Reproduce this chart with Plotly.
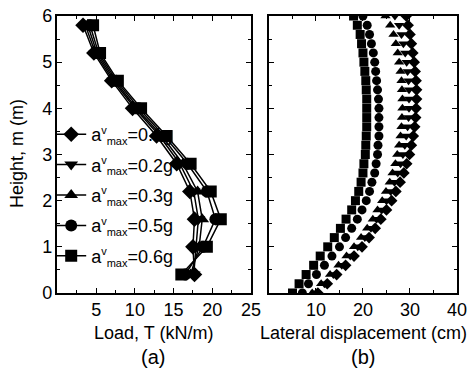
import plotly.graph_objects as go

# ---------------- data ----------------
# panel (a): load distribution
heights_a = [0.4, 1.0, 1.6, 2.2, 2.8, 3.4, 4.0, 4.6, 5.2, 5.8]
load_01g = [17.7, 17.5, 17.7, 17.1, 15.4, 12.8, 9.7, 7.0, 4.7, 3.3]
load_02g = [17.6, 17.9, 18.2, 17.6, 15.8, 13.2, 10.0, 7.2, 4.9, 3.6]
load_03g = [17.2, 18.3, 18.7, 18.1, 16.2, 13.5, 10.2, 7.4, 5.1, 3.9]
load_05g = [16.5, 18.8, 20.4, 19.3, 16.8, 13.8, 10.5, 7.6, 5.3, 4.2]
load_06g = [16.0, 19.3, 21.1, 19.8, 17.2, 14.1, 10.8, 7.8, 5.5, 4.6]

# panel (b): lateral displacement
heights_b = [0.0, 0.2, 0.4, 0.6, 0.8, 1.0, 1.2, 1.4, 1.6, 1.8, 2.0, 2.2, 2.4, 2.6, 2.8, 3.0,
             3.2, 3.4, 3.6, 3.8, 4.0, 4.2, 4.4, 4.6, 4.8, 5.0, 5.2, 5.4, 5.6, 5.8, 6.0]
disp_01g = [10.4, 12.4, 14.4, 16.3, 18.1, 19.8, 21.3, 22.6, 23.8, 25.0, 26.1, 27.0, 27.9, 28.7, 29.3, 29.9,
            30.3, 30.7, 31.0, 31.2, 31.3, 31.4, 31.4, 31.3, 31.1, 30.9, 30.6, 30.3, 30.0, 29.6, 29.2]
disp_02g = [9.8, 11.8, 13.7, 15.5, 17.3, 18.9, 20.4, 21.7, 22.9, 24.0, 25.0, 25.9, 26.7, 27.4, 28.0, 28.5,
            28.9, 29.2, 29.5, 29.7, 29.8, 29.8, 29.8, 29.7, 29.5, 29.3, 29.0, 28.6, 28.2, 27.7, 26.8]
disp_03g = [9.2, 11.1, 13.0, 14.8, 16.5, 18.1, 19.6, 20.9, 22.1, 23.1, 24.1, 24.9, 25.7, 26.3, 26.9, 27.3,
            27.7, 28.0, 28.2, 28.3, 28.4, 28.4, 28.3, 28.2, 28.0, 27.7, 27.4, 27.0, 26.5, 25.8, 24.8]
disp_05g = [7.1, 8.4, 10.1, 11.8, 13.4, 15.0, 16.3, 17.6, 18.8, 19.8, 20.7, 21.4, 21.9, 22.5, 22.8, 23.1,
            23.2, 23.4, 23.4, 23.4, 23.4, 23.3, 23.1, 22.9, 22.7, 22.5, 22.2, 21.8, 21.4, 20.9, 20.0]
disp_06g = [5.0, 6.4, 7.9, 9.5, 10.9, 12.5, 13.9, 15.2, 16.4, 17.6, 18.4, 19.1, 19.6, 20.0, 20.2, 20.5,
            20.6, 20.7, 20.8, 20.8, 20.8, 20.8, 20.7, 20.6, 20.4, 20.2, 20.0, 19.7, 19.4, 18.8, 18.0]

levels = ["0.1g", "0.2g", "0.3g", "0.5g", "0.6g"]
symbols = ["diamond", "triangle-down", "triangle-up", "circle", "square"]
loads = [load_01g, load_02g, load_03g, load_05g, load_06g]
disps = [disp_01g, disp_02g, disp_03g, disp_05g, disp_06g]

FONT = "Liberation Sans, Arial, sans-serif"


def label(lv):
    return ("a<sup><span style='font-size:11px'>v</span></sup>"
            "<sub><span style='font-size:11px'>max</span></sub>=" + lv)


fig = go.Figure()
for i in range(5):
    fig.add_trace(go.Scatter(
        x=loads[i], y=heights_a, mode="lines+markers", name=label(levels[i]),
        line=dict(color="black", width=1.5),
        marker=dict(symbol=symbols[i], size=12, color="black"),
        xaxis="x", yaxis="y", legendgroup=str(i)))
for i in range(5):
    fig.add_trace(go.Scatter(
        x=disps[i], y=heights_b, mode="markers", name=label(levels[i]), showlegend=False,
        marker=dict(symbol=symbols[i], size=9, color="black"),
        xaxis="x2", yaxis="y2"))

axis_common = dict(showline=True, linecolor="black", linewidth=1.5, mirror="ticks",
                   ticks="inside", ticklen=5, tickwidth=1.2, tickcolor="black",
                   showgrid=False, zeroline=False, automargin=False,
                   tickfont=dict(family=FONT, size=18, color="black"))


def ann(text, x, y, size=18, angle=0):
    return dict(text=text, x=x / 474, y=1 - y / 372, xref="paper", yref="paper",
                xanchor="center", yanchor="middle", showarrow=False, textangle=angle,
                font=dict(family=FONT, size=size, color="black"))


fig.update_layout(
    width=474, height=372,
    margin=dict(l=0, r=0, t=0, b=0, autoexpand=False),
    paper_bgcolor="white", plot_bgcolor="white",
    font=dict(family=FONT, size=18, color="black"),
    showlegend=True,
    legend=dict(x=0.108, y=1 - 116 / 372, xanchor="left", yanchor="top",
                bgcolor="rgba(0,0,0,0)", font=dict(family=FONT, size=18),
                tracegroupgap=4, itemwidth=30),
    xaxis=dict(domain=[0.1213, 0.5295], range=[0, 25], anchor="y",
               tickmode="array", tickvals=[5, 10, 15, 20, 25],
               minor=dict(dtick=2.5, ticks="inside", ticklen=3, tickcolor="black"),
               **axis_common),
    yaxis=dict(domain=[1 - 293 / 372, 1 - 16 / 372], range=[0, 6], anchor="x", dtick=1,
               minor=dict(dtick=0.5, ticks="inside", ticklen=3, tickcolor="black"),
               **axis_common),
    xaxis2=dict(domain=[0.5675, 0.964], range=[0, 40], anchor="y2",
                tickmode="array", tickvals=[10, 20, 30, 40],
                minor=dict(dtick=5, ticks="inside", ticklen=3, tickcolor="black"),
                **axis_common),
    yaxis2=dict(domain=[1 - 293 / 372, 1 - 16 / 372], range=[0, 6], anchor="x2", dtick=1,
                showticklabels=False,
                minor=dict(dtick=0.5, ticks="inside", ticklen=3, tickcolor="black"),
                **axis_common),
    annotations=[
        ann("Load, T (kN/m)", 153.5, 333),
        ann("Lateral displacement (cm)", 363.5, 333),
        ann("Height, m (m)", 17, 154, angle=-90),
        ann("(a)", 153, 357, size=20),
        ann("(b)", 363, 357, size=20),
    ],
)

fig.write_html("out.html")
